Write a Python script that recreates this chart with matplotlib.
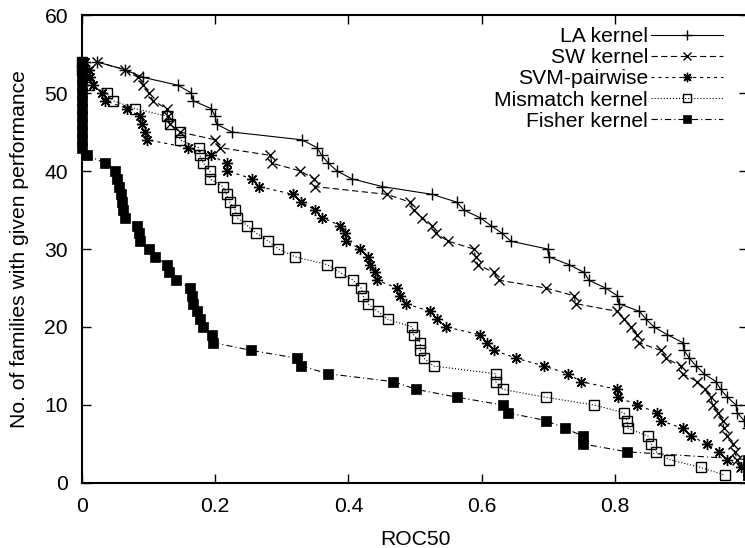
import matplotlib
matplotlib.use("Agg")
import matplotlib.pyplot as plt

# ROC50 scores: number of families reaching at least the given score
la_x = [0.022, 0.064, 0.092, 0.144, 0.164, 0.167, 0.194, 0.200, 0.202, 0.225,
        0.330, 0.353, 0.360, 0.370, 0.383, 0.405, 0.451, 0.526, 0.563, 0.573,
        0.598, 0.614, 0.631, 0.644, 0.699, 0.701, 0.731, 0.754, 0.761, 0.786,
        0.804, 0.806, 0.837, 0.847, 0.859, 0.879, 0.902, 0.904, 0.912, 0.922,
        0.934, 0.952, 0.959, 0.969, 0.982, 0.984, 0.994, 1.000]
la_y = [54, 53, 52, 51, 50, 49, 48, 47, 46, 45,
        44, 43, 42, 41, 40, 39, 38, 37, 36, 35,
        34, 33, 32, 31, 30, 29, 28, 27, 26, 25,
        24, 23, 22, 21, 20, 19, 18, 17, 16, 15,
        14, 13, 12, 11, 10, 9, 8, 7]

sw_x = [0.022, 0.064, 0.084, 0.092, 0.100, 0.107, 0.127, 0.129, 0.132, 0.147,
        0.200, 0.207, 0.283, 0.285, 0.328, 0.348, 0.350, 0.458, 0.493, 0.498,
        0.511, 0.526, 0.531, 0.550, 0.588, 0.591, 0.594, 0.618, 0.626, 0.696,
        0.739, 0.741, 0.804, 0.814, 0.824, 0.834, 0.836, 0.869, 0.877, 0.899,
        0.902, 0.924, 0.935, 0.944, 0.947, 0.955, 0.962, 0.964, 0.969, 0.977,
        0.980, 0.984, 0.990, 1.000]
sw_y = [54, 53, 52, 51, 50, 49, 48, 47, 46, 45,
        44, 43, 42, 41, 40, 39, 38, 37, 36, 35,
        34, 33, 32, 31, 30, 29, 28, 27, 26, 25,
        24, 23, 22, 21, 20, 19, 18, 17, 16, 15,
        14, 13, 12, 11, 10, 9, 8, 7, 6, 5,
        4, 3, 2, 1]

svm_x = [0.005, 0.010, 0.012, 0.017, 0.030, 0.035, 0.068, 0.087, 0.090, 0.095,
         0.098, 0.159, 0.194, 0.217, 0.218, 0.256, 0.266, 0.317, 0.329, 0.350,
         0.361, 0.388, 0.395, 0.397, 0.418, 0.430, 0.433, 0.440, 0.443, 0.473,
         0.478, 0.486, 0.523, 0.533, 0.547, 0.598, 0.608, 0.619, 0.652, 0.694,
         0.730, 0.749, 0.804, 0.805, 0.834, 0.864, 0.869, 0.902, 0.914, 0.939,
         0.957, 0.969, 0.990, 1.000]
svm_y = [54, 53, 52, 51, 50, 49, 48, 47, 46, 45,
         44, 43, 42, 41, 40, 39, 38, 37, 36, 35,
         34, 33, 32, 31, 30, 29, 28, 27, 26, 25,
         24, 23, 22, 21, 20, 19, 18, 17, 16, 15,
         14, 13, 12, 11, 10, 9, 8, 7, 6, 5,
         4, 3, 2, 1]

mm_x = [0.000, 0.000, 0.005, 0.010, 0.037, 0.047, 0.080, 0.128, 0.132, 0.147,
        0.147, 0.175, 0.177, 0.182, 0.192, 0.192, 0.212, 0.217, 0.222, 0.230,
        0.233, 0.248, 0.262, 0.280, 0.295, 0.320, 0.368, 0.387, 0.407, 0.419,
        0.422, 0.429, 0.444, 0.459, 0.496, 0.498, 0.508, 0.508, 0.513, 0.528,
        0.621, 0.621, 0.632, 0.696, 0.769, 0.814, 0.818, 0.820, 0.850, 0.855,
        0.862, 0.882, 0.929, 0.965]
mm_y = [54, 53, 52, 51, 50, 49, 48, 47, 46, 45,
        44, 43, 42, 41, 40, 39, 38, 37, 36, 35,
        34, 33, 32, 31, 30, 29, 28, 27, 26, 25,
        24, 23, 22, 21, 20, 19, 18, 17, 16, 15,
        14, 13, 12, 11, 10, 9, 8, 7, 6, 5,
        4, 3, 2, 1]

fk_x = [0.000, 0.000, 0.000, 0.000, 0.000, 0.000, 0.000, 0.000, 0.000, 0.000,
        0.000, 0.000, 0.008, 0.035, 0.050, 0.052, 0.055, 0.058, 0.060, 0.062,
        0.065, 0.082, 0.085, 0.087, 0.100, 0.110, 0.127, 0.130, 0.141, 0.162,
        0.165, 0.167, 0.173, 0.177, 0.181, 0.195, 0.197, 0.254, 0.323, 0.329,
        0.370, 0.467, 0.502, 0.563, 0.632, 0.639, 0.697, 0.725, 0.753, 0.753,
        0.818, 1.000, 1.000, 1.000]
fk_y = [54, 53, 52, 51, 50, 49, 48, 47, 46, 45,
        44, 43, 42, 41, 40, 39, 38, 37, 36, 35,
        34, 33, 32, 31, 30, 29, 28, 27, 26, 25,
        24, 23, 22, 21, 20, 19, 18, 17, 16, 15,
        14, 13, 12, 11, 10, 9, 8, 7, 6, 5,
        4, 3, 2, 1]

xticks = [0, 0.2, 0.4, 0.6, 0.8, 1]
xtick_labels = ["0", "0.2", "0.4", "0.6", "0.8", ""]
yticks = [0, 10, 20, 30, 40, 50, 60]

plt.rcParams['font.family'] = ['Liberation Sans', 'DejaVu Sans']
plt.rcParams['font.size'] = 15.2
plt.rcParams['lines.scale_dashes'] = False

fig = plt.figure(figsize=(7.45, 5.48), dpi=100)
ax = fig.add_axes([82 / 745, 65 / 548, 666 / 745, 468 / 548])

lw = 0.8
ax.plot(la_x, la_y, color='black', lw=lw, ls='-', marker='+', ms=8, mew=1.0,
        label='LA kernel', clip_on=False)
ax.plot(sw_x, sw_y, color='black', lw=lw, ls=(0, (4.5, 2.5)), marker='x', ms=7, mew=1.0,
        label='SW kernel', clip_on=False)
ax.plot(svm_x, svm_y, color='black', lw=lw, ls=(0, (2.2, 2.8)), marker=(8, 2, 0), ms=8, mew=1.0,
        label='SVM-pairwise', clip_on=False)
ax.plot(mm_x, mm_y, color='black', lw=lw, ls=(0, (0.8, 1.4)), marker='s', ms=6.5, mew=1.0,
        mfc='none', label='Mismatch kernel', clip_on=False)
ax.plot(fk_x, fk_y, color='black', lw=lw, ls=(0, (4.5, 2.2, 0.8, 2.2)), marker='s', ms=7,
        mew=0.5, mfc='black', label='Fisher kernel', clip_on=False)

ax.set_xlim(0, 1)
ax.set_ylim(0, 60)
ax.set_xticks(xticks)
ax.set_xticklabels(xtick_labels)
ax.set_yticks(yticks)
ax.tick_params(direction='in', length=6.5, width=1.0, top=True, right=True)
ax.tick_params(axis='x', pad=10)
ax.tick_params(axis='y', pad=10)
for s in ax.spines.values():
    s.set_linewidth(1.5)

ax.set_xlabel('ROC50')
ax.set_ylabel('No. of families with given performance')
ax.xaxis.set_label_coords(0.5, -0.100)
ax.yaxis.set_label_coords(-0.080, 0.5)

ax.legend(loc='upper right', bbox_to_anchor=(0.9625, 0.974), markerfirst=False,
          frameon=False, borderpad=0, borderaxespad=0, handlelength=3.4,
          handletextpad=0.15, labelspacing=0.10, numpoints=1, markerscale=0.85)

fig.savefig('out.png', dpi=100)
